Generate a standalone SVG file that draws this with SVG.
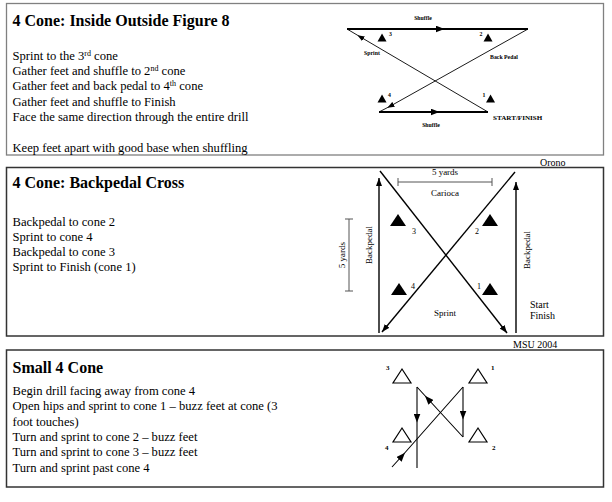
<svg xmlns="http://www.w3.org/2000/svg" width="612" height="502" viewBox="0 0 612 502">
<defs>
<style>
text{font-family:"Liberation Serif","Times New Roman",serif;fill:#000}
.body{font-size:12.6px}
.title{font-size:16px;font-weight:bold}
.sm{font-size:5.8px;font-weight:bold}
.lbl{font-size:9px}
.box1{fill:none;stroke:#808080;stroke-width:1.3}
.box{fill:none;stroke:#333;stroke-width:1.5}
.thick{fill:none;stroke:#000;stroke-width:2}
.thin{fill:none;stroke:#000;stroke-width:0.9}
.mid{fill:none;stroke:#000;stroke-width:1.4}
.dim{fill:none;stroke:#555;stroke-width:1}
</style>
<marker id="am" viewBox="0 0 10 10" refX="5" refY="5" markerWidth="9" markerHeight="7" markerUnits="userSpaceOnUse" orient="auto" preserveAspectRatio="none"><path d="M0,0L10,5L0,10z" fill="#000"/></marker>
<marker id="as" viewBox="0 0 10 10" refX="5" refY="5" markerWidth="7" markerHeight="5.5" markerUnits="userSpaceOnUse" orient="auto" preserveAspectRatio="none"><path d="M0,0L10,5L0,10z" fill="#000"/></marker>
<marker id="ae" viewBox="0 0 10 10" refX="10" refY="5" markerWidth="8" markerHeight="6" markerUnits="userSpaceOnUse" orient="auto" preserveAspectRatio="none"><path d="M0,0L10,5L0,10z" fill="#000"/></marker>
<marker id="a3" viewBox="0 0 10 10" refX="5" refY="5" markerWidth="9" markerHeight="7" markerUnits="userSpaceOnUse" orient="auto" preserveAspectRatio="none"><path d="M0,0L10,5L0,10z" fill="#000"/></marker>
</defs>

<g id="section1">
<rect class="box1" x="6.5" y="3.5" width="597" height="151.5"/>
<text class="title" x="12.5" y="26">4 Cone:  Inside Outside Figure 8</text>
<text class="body" x="12.5" y="59.5">Sprint to the 3<tspan dy="-4" font-size="8">rd</tspan><tspan dy="4"> cone</tspan></text>
<text class="body" x="12.5" y="74.9">Gather feet and shuffle to 2<tspan dy="-4" font-size="8">nd</tspan><tspan dy="4"> cone</tspan></text>
<text class="body" x="12.5" y="90.3">Gather feet and back pedal to 4<tspan dy="-4" font-size="8">th</tspan><tspan dy="4"> cone</tspan></text>
<text class="body" x="12.5" y="105.7">Gather feet and shuffle to Finish</text>
<text class="body" x="12.5" y="121.1">Face the same direction through the entire drill</text>
<text class="body" x="12.5" y="151.5">Keep feet apart with good base when shuffling</text>
</g>

<g id="fig8-connectors">
<path class="thick" d="M347,29L440,29L528,29" marker-mid="url(#am)"/>
<path class="thick" d="M379,112L435,112L488,112" marker-mid="url(#am)"/>
<path class="thin" d="M488,112L360.5,37L347,29" marker-mid="url(#as)"/>
<path class="thin" d="M528,29L390.5,106L379,112" marker-mid="url(#as)"/>
</g>
<g id="fig8-cone3"><polygon points="377.5,41.5 386.5,41.5 382,33.5"/><text class="sm" x="389" y="36">3</text></g>
<g id="fig8-cone2"><polygon points="483.5,41.5 492.5,41.5 488,33.5"/><text class="sm" x="479.5" y="36">2</text></g>
<g id="fig8-cone4"><polygon points="377.5,102.5 386.5,102.5 382,94.5"/><text class="sm" x="388" y="97">4</text></g>
<g id="fig8-cone1"><polygon points="486,102.5 495,102.5 490.5,94.5"/><text class="sm" x="482.5" y="97">1</text></g>
<g id="fig8-labels">
<text class="sm" x="423" y="20" text-anchor="middle" font-size="6.3">Shuffle</text>
<text class="sm" x="431" y="127" text-anchor="middle" font-size="6.3">Shuffle</text>
<text class="sm" x="372" y="55" text-anchor="middle">Sprint</text>
<text class="sm" x="504" y="59" text-anchor="middle">Back Pedal</text>
<text class="sm" x="493" y="120" style="font-size:7.1px">START/FINISH</text>
</g>

<text class="lbl" x="540" y="166" style="font-size:10px">Orono</text>

<g id="section2">
<rect class="box" x="6.5" y="167.5" width="597" height="168.5"/>
<text class="title" x="12.5" y="188">4 Cone:  Backpedal Cross</text>
<text class="body" x="12.5" y="225.5">Backpedal to cone 2</text>
<text class="body" x="12.5" y="240.8">Sprint to cone 4</text>
<text class="body" x="12.5" y="256.1">Backpedal to cone 3</text>
<text class="body" x="12.5" y="271.4">Sprint to Finish (cone 1)</text>
</g>
<g id="cross-connectors">
<path class="mid" d="M380,171L507,333" marker-end="url(#ae)"/>
<path class="mid" d="M515,172L382,332" marker-end="url(#ae)"/>
<path class="mid" d="M379,333L379,178" marker-end="url(#ae)"/>
<path class="mid" d="M516,333L516,182" marker-end="url(#ae)"/>
<path class="dim" d="M398,182H492M398,178V186M492,178V186"/>
<path class="dim" d="M349,219V291M345,219H353M345,291H353"/>
</g>
<g id="cross-cone3"><polygon points="390,226 406,226 398,214"/><text class="lbl" x="412" y="234" style="font-size:8px">3</text></g>
<g id="cross-cone2"><polygon points="482,226 498,226 490,214"/><text class="lbl" x="475" y="234" style="font-size:8px">2</text></g>
<g id="cross-cone4"><polygon points="391,295 407,295 399,283"/><text class="lbl" x="411" y="289" style="font-size:8px">4</text></g>
<g id="cross-cone1"><polygon points="482,295 498,295 490,283"/><text class="lbl" x="477" y="289" style="font-size:8px">1</text></g>
<g id="cross-labels">
<text class="lbl" x="445" y="175" text-anchor="middle">5 yards</text>
<text class="lbl" x="445" y="196" text-anchor="middle">Carioca</text>
<text class="lbl" x="445" y="316" text-anchor="middle">Sprint</text>
<text class="lbl" transform="translate(372,245) rotate(-90)" text-anchor="middle">Backpedal</text>
<text class="lbl" transform="translate(530,250) rotate(-90)" text-anchor="middle">Backpedal</text>
<text class="lbl" transform="translate(345,255) rotate(-90)" text-anchor="middle">5 yards</text>
<text class="lbl" x="530" y="308" style="font-size:10px">Start</text>
<text class="lbl" x="530" y="319" style="font-size:10px">Finish</text>
</g>

<text class="lbl" x="513" y="347.5" style="font-size:10px">MSU 2004</text>

<g id="section3">
<rect class="box" x="6.5" y="350" width="597" height="137"/>
<text class="title" x="12.5" y="373">Small 4 Cone</text>
<text class="body" x="12.5" y="395">Begin drill facing away from cone 4</text>
<text class="body" x="12.5" y="410.3">Open hips and sprint to cone 1 – buzz feet at cone (3</text>
<text class="body" x="12.5" y="425.6">foot touches)</text>
<text class="body" x="12.5" y="440.9">Turn and sprint to cone 2 – buzz feet</text>
<text class="body" x="12.5" y="456.2">Turn and sprint to cone 3 – buzz feet</text>
<text class="body" x="12.5" y="471.5">Turn and sprint past cone 4</text>
</g>
<g id="small-connectors">
<path class="mid" style="stroke-width:1.1" d="M392,467L402,456L463,387" marker-mid="url(#a3)"/>
<path class="mid" style="stroke-width:1.1" d="M463,387L463,415L463,437" marker-mid="url(#a3)"/>
<path class="mid" style="stroke-width:1.1" d="M463,437L428,399L417,387" marker-mid="url(#a3)"/>
<path class="mid" style="stroke-width:1.1" d="M417,387L417,418L417,468" marker-mid="url(#a3)"/>
</g>
<g id="small-cone3"><polygon points="393,383 411,383 402,369" fill="#fff" stroke="#000" stroke-width="1.2"/><text class="sm" x="386" y="370" style="font-size:7px">3</text></g>
<g id="small-cone1"><polygon points="469,383 487,383 478,369" fill="#fff" stroke="#000" stroke-width="1.2"/><text class="sm" x="491" y="370" style="font-size:7px">1</text></g>
<g id="small-cone4"><polygon points="393,442 411,442 402,428" fill="#fff" stroke="#000" stroke-width="1.2"/><text class="sm" x="385" y="450" style="font-size:7px">4</text></g>
<g id="small-cone2"><polygon points="469,442 487,442 478,428" fill="#fff" stroke="#000" stroke-width="1.2"/><text class="sm" x="492" y="450" style="font-size:7px">2</text></g>
</svg>
